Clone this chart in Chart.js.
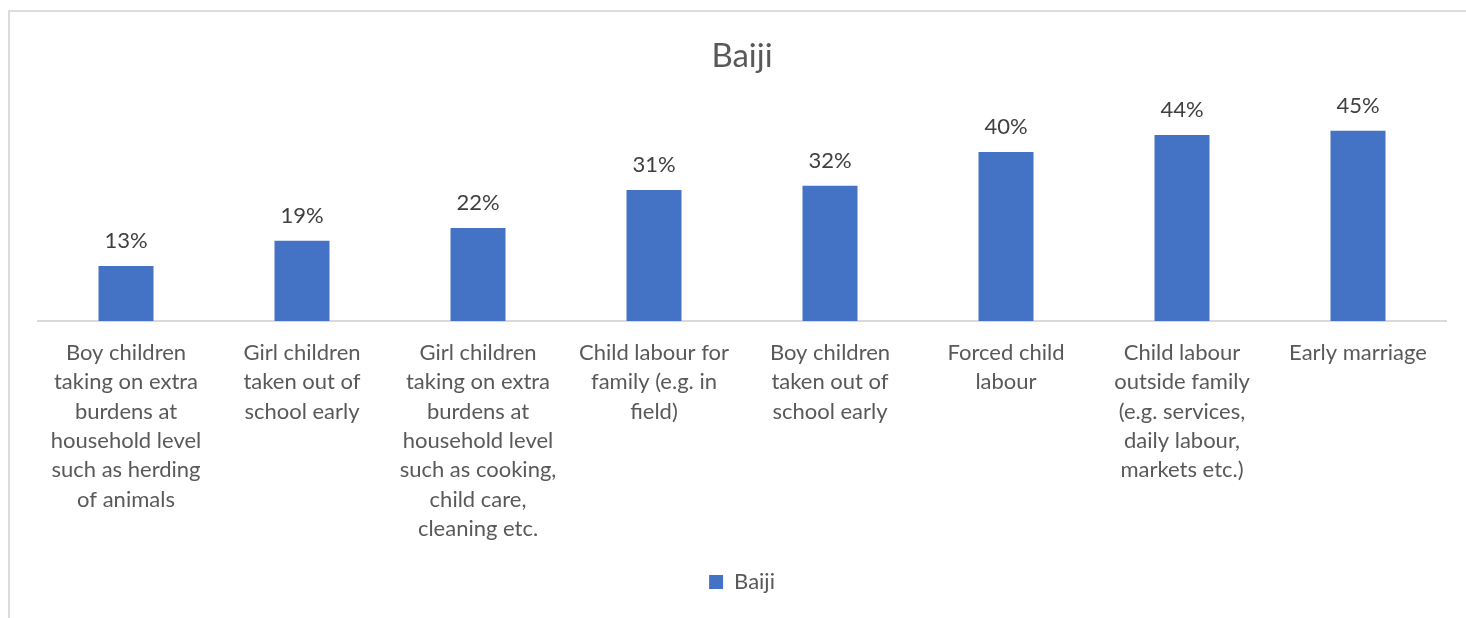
<!DOCTYPE html>
<html>
<head>
<meta charset="utf-8">
<script src="https://cdn.jsdelivr.net/npm/chart.js@4/dist/chart.umd.min.js"></script>
<style>
  html, body { margin: 0; padding: 0; background: #fff; overflow: hidden; }
  #frame { position: absolute; left: 8px; top: 10px; width: 1520px; height: 700px; border: 2px solid #dcdcdc; box-sizing: border-box; }
  #wrap { position: absolute; left: 0; top: 0; width: 1466px; height: 618px; }
</style>
</head>
<body>
<div id="frame"></div>
<div id="wrap"><canvas id="c" width="1466" height="618"></canvas></div>
<script>
const chartTitle = "Baiji";
const seriesName = "Baiji";
const categories = [
  ["Boy children", "taking on extra", "burdens at", "household level", "such as herding", "of animals"],
  ["Girl children", "taken out of", "school early"],
  ["Girl children", "taking on extra", "burdens at", "household level", "such as cooking,", "child care,", "cleaning etc."],
  ["Child labour for", "family (e.g. in", "field)"],
  ["Boy children", "taken out of", "school early"],
  ["Forced child", "labour"],
  ["Child labour", "outside family", "(e.g. services,", "daily labour,", "markets etc.)"],
  ["Early marriage"]
];
const values = [13, 19, 22, 31, 32, 40, 44, 45];

const FONT = "Lato, 'Open Sans', sans-serif";

const dataLabels = {
  id: 'dataLabels',
  afterDatasetsDraw(chart) {
    const ctx = chart.ctx;
    const meta = chart.getDatasetMeta(0);
    ctx.save();
    ctx.font = "22px " + FONT;
    ctx.fillStyle = "#404040";
    ctx.textAlign = "center";
    ctx.textBaseline = "middle";
    meta.data.forEach((bar, i) => {
      ctx.fillText(values[i] + "%", bar.x, bar.y - 25);
    });
    ctx.restore();
  }
};

new Chart(document.getElementById('c'), {
  type: 'bar',
  data: {
    labels: categories,
    datasets: [{
      label: seriesName,
      data: values,
      backgroundColor: '#4472C4',
      borderWidth: 0,
      categoryPercentage: 1.0,
      barPercentage: 0.3125
    }]
  },
  options: {
    responsive: false,
    animation: false,
    layout: { padding: { left: 38, right: 20, top: 0, bottom: 15 } },
    plugins: {
      title: {
        display: true,
        text: chartTitle,
        color: '#595959',
        font: { family: FONT, size: 33, weight: 'normal', lineHeight: 1.2 },
        padding: { top: 37, bottom: 33 }
      },
      legend: {
        display: true,
        position: 'bottom',
        labels: {
          color: '#595959',
          font: { family: FONT, size: 22 },
          boxWidth: 14,
          boxHeight: 14,
          padding: 10
        }
      },
      tooltip: { enabled: false }
    },
    scales: {
      x: {
        grid: { display: false, drawTicks: false },
        border: { display: true, color: '#d9d9d9', width: 2 },
        ticks: {
          color: '#595959',
          font: { family: FONT, size: 22, lineHeight: 1.335 },
          padding: 17,
          autoSkip: false,
          maxRotation: 0,
          minRotation: 0
        },
        afterFit(scale) { scale.height = 240; }
      },
      y: {
        display: false,
        min: 0,
        max: 50
      }
    }
  },
  plugins: [dataLabels]
});
</script>
</body>
</html>
